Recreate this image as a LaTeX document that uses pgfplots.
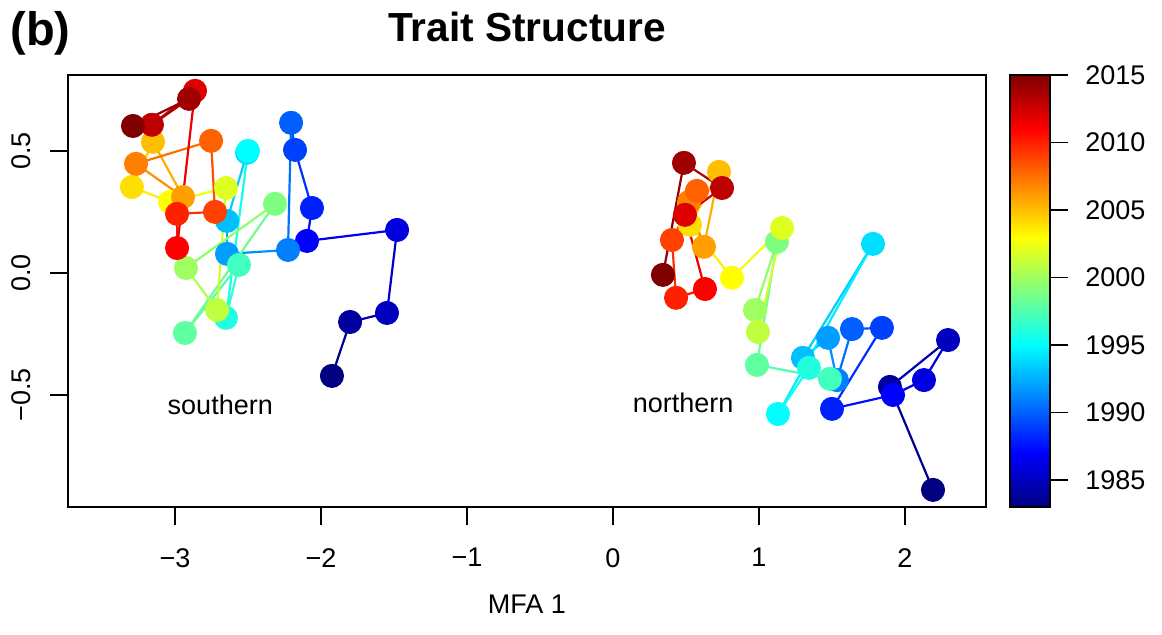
\documentclass[border=0pt]{standalone}
\usepackage{fontspec}
\setmainfont{Liberation Sans}
\usepackage{pgfplots}
\usepackage{pgfplotstable}
\pgfplotsset{compat=1.18}

\pgfplotstableread{
x y yr
-1.925 -0.422 1983
-1.801 -0.201 1984
-1.548 -0.164 1985
-1.479 0.176 1986
-2.096 0.131 1987
-2.062 0.266 1988
-2.178 0.504 1989
-2.205 0.615 1990
-2.226 0.094 1991
-2.644 0.078 1992
-2.644 0.213 1993
-2.507 0.492 1994
-2.500 0.500 1995
-2.651 -0.184 1996
-2.562 0.033 1997
-2.932 -0.246 1998
-2.315 0.283 1999
-2.925 0.020 2000
-2.712 -0.152 2001
-2.651 0.348 2002
-3.034 0.291 2003
-3.295 0.352 2004
-3.151 0.537 2005
-2.945 0.311 2006
-3.267 0.447 2007
-2.753 0.541 2008
-2.726 0.250 2009
-2.986 0.242 2010
-2.986 0.102 2011
-2.863 0.746 2012
-3.158 0.607 2013
-2.904 0.713 2014
-3.288 0.602 2015
}\south

\pgfplotstableread{
x y yr
2.192 -0.889 1983
1.897 -0.467 1984
2.295 -0.275 1985
2.130 -0.439 1986
1.918 -0.500 1987
1.500 -0.557 1988
1.842 -0.225 1989
1.637 -0.230 1990
1.534 -0.439 1991
1.473 -0.266 1992
1.301 -0.348 1993
1.781 0.119 1994
1.130 -0.578 1995
1.342 -0.389 1996
1.486 -0.434 1997
0.986 -0.377 1998
1.123 0.127 1999
0.973 -0.152 2000
0.993 -0.242 2001
1.158 0.184 2002
0.815 -0.020 2003
0.527 0.197 2004
0.726 0.414 2005
0.623 0.107 2006
0.521 0.291 2007
0.575 0.336 2008
0.404 0.135 2009
0.432 -0.102 2010
0.630 -0.066 2011
0.493 0.238 2012
0.747 0.348 2013
0.486 0.451 2014
0.342 -0.008 2015
}\north

\pgfplotsset{
  sel/.style 2 args={/pgfplots/x filter/.append code={%
     \ifnum\coordindex<#1\relax\def\pgfmathresult{}\fi
     \ifnum\coordindex>#2\relax\def\pgfmathresult{}\fi}},
  seg/.style={mesh, line width=1.1pt, point meta=explicit, forget plot},
  pts/.style={scatter, only marks, mark=*, mark size=5.8pt, point meta=explicit,
    scatter/use mapped color={draw=mapped color, fill=mapped color}, forget plot},
}

\begin{document}
\begin{tikzpicture}
\begin{axis}[
  at={(34pt,64pt)}, anchor=south west,
  scale only axis, width=459pt, height=216pt,
  xmin=-3.733, xmax=2.555, ymin=-0.959, ymax=0.811,
  xtick={-3,-2,-1,0,1,2}, xticklabels={−3,−2,−1,0,1,2},
  ytick={-0.5,0,0.5}, yticklabels={−0.5,0.0,0.5},
  tick align=outside, major tick length=9pt,
  xtick pos=bottom, ytick pos=left,
  tick style={black, line width=0.75pt},
  axis line style={line width=0.75pt},
  ticklabel style={font=\fontsize{13.5}{16}\selectfont},
  xticklabel style={anchor=north, inner sep=0pt},
  xticklabel shift=11.5pt,
  yticklabel style={rotate=90, anchor=base, inner sep=0pt},
  yticklabel shift=10pt,
  xlabel={MFA 1},
  xlabel style={font=\fontsize{13.5}{16}\selectfont, at={(axis description cs:0.5,0)}, anchor=base, yshift=-53.5pt},
  title={Trait Structure},
  title style={font=\bfseries\fontsize{20.3}{24}\selectfont, at={(axis description cs:0.5,1)}, anchor=base, yshift=10.5pt},
  point meta min=1983, point meta max=2015,
  colormap/jet,
]
\addplot[pts, sel={0}{0}] table[x=x,y=y,meta=yr] {\south};
\pgfplotsinvokeforeach{1,...,32}{
  \addplot[seg, sel={\numexpr#1-1\relax}{#1}] table[x=x,y=y,meta=yr] {\south};
  \addplot[pts, sel={#1}{#1}] table[x=x,y=y,meta=yr] {\south};
}
\addplot[pts, sel={0}{0}] table[x=x,y=y,meta=yr] {\north};
\pgfplotsinvokeforeach{1,...,32}{
  \addplot[seg, sel={\numexpr#1-1\relax}{#1}] table[x=x,y=y,meta=yr] {\north};
  \addplot[pts, sel={#1}{#1}] table[x=x,y=y,meta=yr] {\north};
}
\node[font=\fontsize{13.5}{16}\selectfont] at (axis cs:-2.69,-0.54) {southern};
\node[font=\fontsize{13.5}{16}\selectfont] at (axis cs:0.48,-0.533) {northern};
\end{axis}
% colour bar
\begin{axis}[
  at={(505pt,64pt)}, anchor=south west,
  scale only axis, width=20pt, height=216pt,
  xmin=0, xmax=1, ymin=1983, ymax=2015,
  xtick=\empty,
  ytick={1985,1990,1995,2000,2005,2010,2015},
  yticklabels={1985,1990,1995,2000,2005,2010,2015},
  ytick pos=right, yticklabel pos=right,
  tick align=outside, major tick length=9pt,
  tick style={black, line width=0.75pt},
  axis line style={line width=0.75pt},
  axis on top,
  yticklabel style={font=\fontsize{13.5}{16}\selectfont, anchor=west, inner sep=0pt},
  yticklabel shift=8.5pt,
  colormap/jet, point meta min=1983, point meta max=2015,
]
\addplot[surf, shader=interp, point meta=y, mesh/cols=2] coordinates {
(0,1983) (1,1983)
(0,1991) (1,1991)
(0,1999) (1,1999)
(0,2007) (1,2007)
(0,2015) (1,2015)
};
\end{axis}
\node[anchor=base west, font=\bfseries\fontsize{23.5}{28}\selectfont, inner sep=0pt] at (5pt,294.5pt) {(b)};
\pgfresetboundingbox
\path[use as bounding box] (0,0) rectangle (581pt,317.5pt);
\end{tikzpicture}
\end{document}
